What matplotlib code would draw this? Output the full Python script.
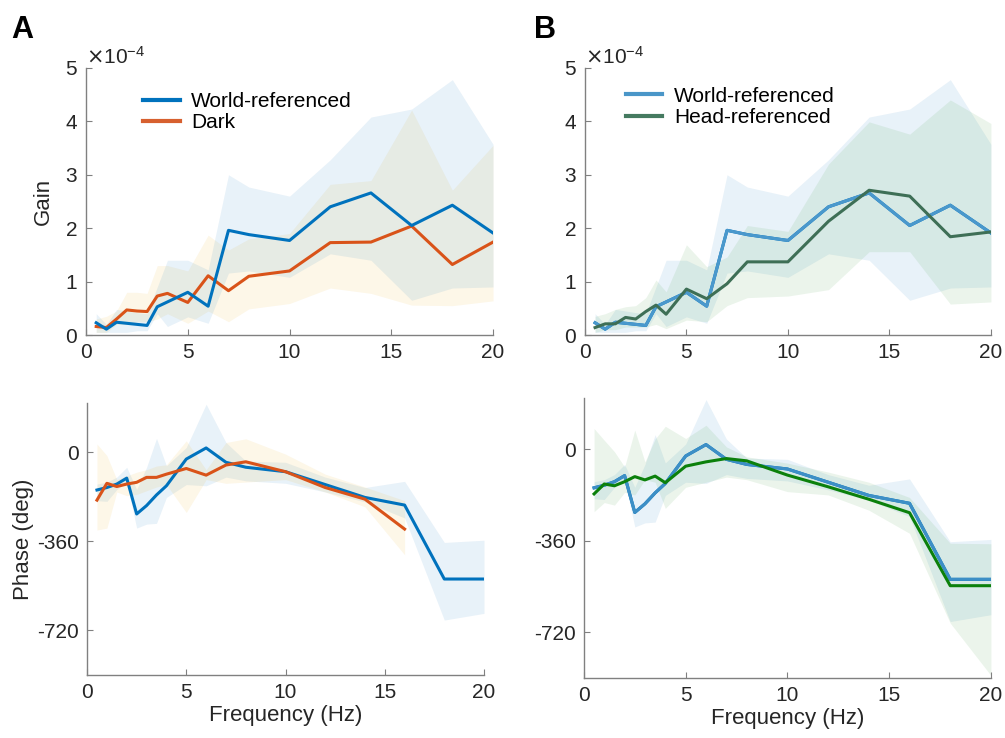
import matplotlib
matplotlib.use('Agg')
import matplotlib.pyplot as plt
import numpy as np

plt.rcParams['font.family'] = ['Liberation Sans', 'DejaVu Sans']
plt.rcParams['axes.unicode_minus'] = False

freq = [0.5, 1, 1.5, 2, 2.5, 3, 3.5, 4, 5, 6, 7, 8, 10, 12, 14, 16, 18, 20]
freq_dark_phase = freq[:16]

# gain, in units of 1e-4
world_gain = [0.23, 0.11, 0.24, 0.22, 0.20, 0.18, 0.53, 0.62, 0.80, 0.54, 1.96, 1.88, 1.77, 2.40, 2.66, 2.05, 2.43, 1.91]
world_gain_hi = [0.40, 0.20, 0.48, 0.45, 0.42, 0.40, 0.90, 1.40, 1.40, 1.22, 3.00, 2.77, 2.60, 3.28, 4.08, 4.23, 4.78, 3.57]
world_gain_lo = [0.05, 0.05, 0.05, 0.05, 0.08, 0.08, 0.40, 0.16, 0.34, 0.22, 1.16, 1.20, 1.08, 1.52, 1.40, 0.65, 0.88, 0.90]

dark_gain = [0.16, 0.14, 0.30, 0.47, 0.45, 0.44, 0.73, 0.78, 0.61, 1.11, 0.83, 1.10, 1.20, 1.73, 1.74, 2.04, 1.32, 1.74]
dark_gain_hi = [0.30, 0.35, 0.45, 0.80, 0.80, 0.78, 1.30, 1.30, 1.20, 1.87, 1.59, 1.80, 1.90, 2.82, 2.89, 4.21, 2.71, 3.55]
dark_gain_lo = [0.05, 0.05, 0.20, 0.20, 0.25, 0.25, 0.30, 0.40, 0.22, 0.45, 0.25, 0.49, 0.59, 0.88, 0.78, 0.56, 0.55, 0.64]

head_gain = [0.14, 0.21, 0.21, 0.33, 0.30, 0.44, 0.56, 0.39, 0.86, 0.68, 0.96, 1.37, 1.37, 2.13, 2.71, 2.60, 1.84, 1.93]
head_gain_hi = [0.35, 0.40, 0.48, 0.53, 0.55, 0.70, 1.03, 0.81, 1.69, 1.28, 1.46, 2.05, 1.94, 3.20, 3.99, 3.76, 4.40, 3.96]
head_gain_lo = [0.05, 0.10, 0.10, 0.15, 0.15, 0.15, 0.20, 0.12, 0.28, 0.25, 0.55, 0.70, 0.73, 0.85, 1.56, 1.56, 0.58, 0.62]

# phase, deg
world_phase = [-152, -142, -128, -104, -249, -215, -172, -135, -27, 18, -40, -60, -78, -130, -182, -213, -512, -512]
world_phase_hi = [-128, -120, -100, -60, -150, -60, 57, -54, 20, 195, 40, -35, -40, -100, -142, -117, -364, -355]
world_phase_lo = [-195, -198, -150, -120, -306, -290, -287, -182, -130, -135, -100, -115, -125, -160, -200, -265, -678, -651]

dark_phase = [-193, -125, -138, -128, -121, -101, -101, -88, -65, -92, -51, -38, -78, -142, -189, -310]
dark_phase_hi = [34, -13, -110, -95, -80, -70, -55, -50, 47, -70, 40, 55, -7, -88, -140, -195]
dark_phase_lo = [-314, -306, -160, -175, -170, -155, -140, -130, -243, -110, -125, -120, -110, -160, -220, -414]

head_phase = [-176, -137, -144, -128, -108, -121, -106, -132, -67, -50, -37, -46, -102, -148, -197, -250, -537, -537]
head_phase_hi = [81, 35, -10, -70, 75, -50, 40, 90, 42, 94, 9, -30, -55, -90, -130, -190, -370, -372]
head_phase_lo = [-246, -210, -220, -170, -180, -120, -130, -233, -150, -130, -110, -120, -167, -180, -240, -331, -684, -890]

BLUE = '#0072BD'
BLUE_FILL = '#0072BD'
YELLOW_FILL = '#EDB120'
ORANGE = '#D95319'
GREEN_FILL = '#3c9a3c'
TXT = '#262626'
AX = '#808080'
FS = 15


def style(ax):
	for s in ['top', 'right']:
		ax.spines[s].set_visible(False)
	for s in ['left', 'bottom']:
		ax.spines[s].set_color(AX)
		ax.spines[s].set_linewidth(1.0)
	ax.tick_params(direction='in', length=4, color=AX, labelcolor=TXT, labelsize=FS, pad=6)
	ax.set_xlim(0, 20)
	ax.set_xticks([0, 5, 10, 15, 20])


def band(ax, x, lo, hi, color, alpha):
	ax.fill_between(x, np.array(lo), np.array(hi), color=color, alpha=alpha, lw=0)


fig = plt.figure(figsize=(10.05, 7.38), dpi=100)
ax1 = fig.add_axes([0.0856, 0.546, 0.405, 0.362])
ax2 = fig.add_axes([0.582, 0.546, 0.404, 0.362])
ax3 = fig.add_axes([0.0866, 0.0854, 0.395, 0.3686])
ax4 = fig.add_axes([0.581, 0.0813, 0.405, 0.379])

g = 1e-4
# A gain
band(ax1, freq, np.array(dark_gain_lo) * g, np.array(dark_gain_hi) * g, YELLOW_FILL, 0.1)
ax1.plot(freq, np.array(dark_gain) * g, color=ORANGE, lw=2.2)
band(ax1, freq, np.array(world_gain_lo) * g, np.array(world_gain_hi) * g, BLUE_FILL, 0.09)
ax1.plot(freq, np.array(world_gain) * g, color=BLUE, lw=2.2)
h1, = ax1.plot([], [], color=BLUE, lw=3)
h2, = ax1.plot([], [], color='#D7602F', lw=3)
ax1.legend([h1, h2], ['World-referenced', 'Dark'], loc='upper left', bbox_to_anchor=(0.095, 0.98),
	frameon=False, fontsize=FS, handlelength=1.75, handletextpad=0.55, labelspacing=0.12)

# B gain
band(ax2, freq, np.array(world_gain_lo) * g, np.array(world_gain_hi) * g, BLUE_FILL, 0.09)
ax2.plot(freq, np.array(world_gain) * g, color=BLUE, lw=2.2)
band(ax2, freq, np.array(head_gain_lo) * g, np.array(head_gain_hi) * g, GREEN_FILL, 0.1)
ax2.plot(freq, np.array(world_gain) * g, color='#4a98cc', lw=2.2)
ax2.plot(freq, np.array(head_gain) * g, color='#3e6f56', lw=2.2)
h3, = ax2.plot([], [], color='#4a96c8', lw=3)
h4, = ax2.plot([], [], color='#457a60', lw=3)
ax2.legend([h3, h4], ['World-referenced', 'Head-referenced'], loc='upper left', bbox_to_anchor=(0.055, 1.0),
	frameon=False, fontsize=FS, handlelength=1.75, handletextpad=0.55, labelspacing=0.12)

for ax in [ax1, ax2]:
	style(ax)
	ax.set_ylim(0, 5e-4)
	ax.set_yticks(np.arange(0, 6) * 1e-4)
	ax.ticklabel_format(axis='y', style='sci', scilimits=(0, 0), useMathText=True)
	ax.yaxis.get_offset_text().set_fontsize(FS)
	ax.yaxis.get_offset_text().set_color(TXT)
ax1.set_ylabel('Gain', fontsize=16, color=TXT, labelpad=8)

# A phase
band(ax3, freq, world_phase_lo, world_phase_hi, BLUE_FILL, 0.09)
ax3.plot(freq, world_phase, color=BLUE, lw=2.2)
band(ax3, freq_dark_phase, dark_phase_lo, dark_phase_hi, YELLOW_FILL, 0.1)
ax3.plot(freq_dark_phase, dark_phase, color=ORANGE, lw=2.2)

# B phase
band(ax4, freq, world_phase_lo, world_phase_hi, BLUE_FILL, 0.09)
ax4.plot(freq, world_phase, color=BLUE, lw=2.2)
band(ax4, freq, head_phase_lo, head_phase_hi, GREEN_FILL, 0.1)
ax4.plot(freq, world_phase, color='#3d8fc6', lw=2.2)
ax4.plot(freq, head_phase, color='#0b800b', lw=2.2)

for ax in [ax3, ax4]:
	style(ax)
	ax.set_ylim(-900, 200)
	ax.set_yticks([-720, -360, 0])
	ax.set_xlabel('Frequency (Hz)', fontsize=16, color=TXT, labelpad=2)
ax3.set_ylabel('Phase (deg)', fontsize=16, color=TXT, labelpad=2)

fig.text(0.011, 0.948, 'A', fontsize=22, fontweight='bold', color='black')
fig.text(0.531, 0.948, 'B', fontsize=22, fontweight='bold', color='black')

plt.savefig('out.png', dpi=100)
